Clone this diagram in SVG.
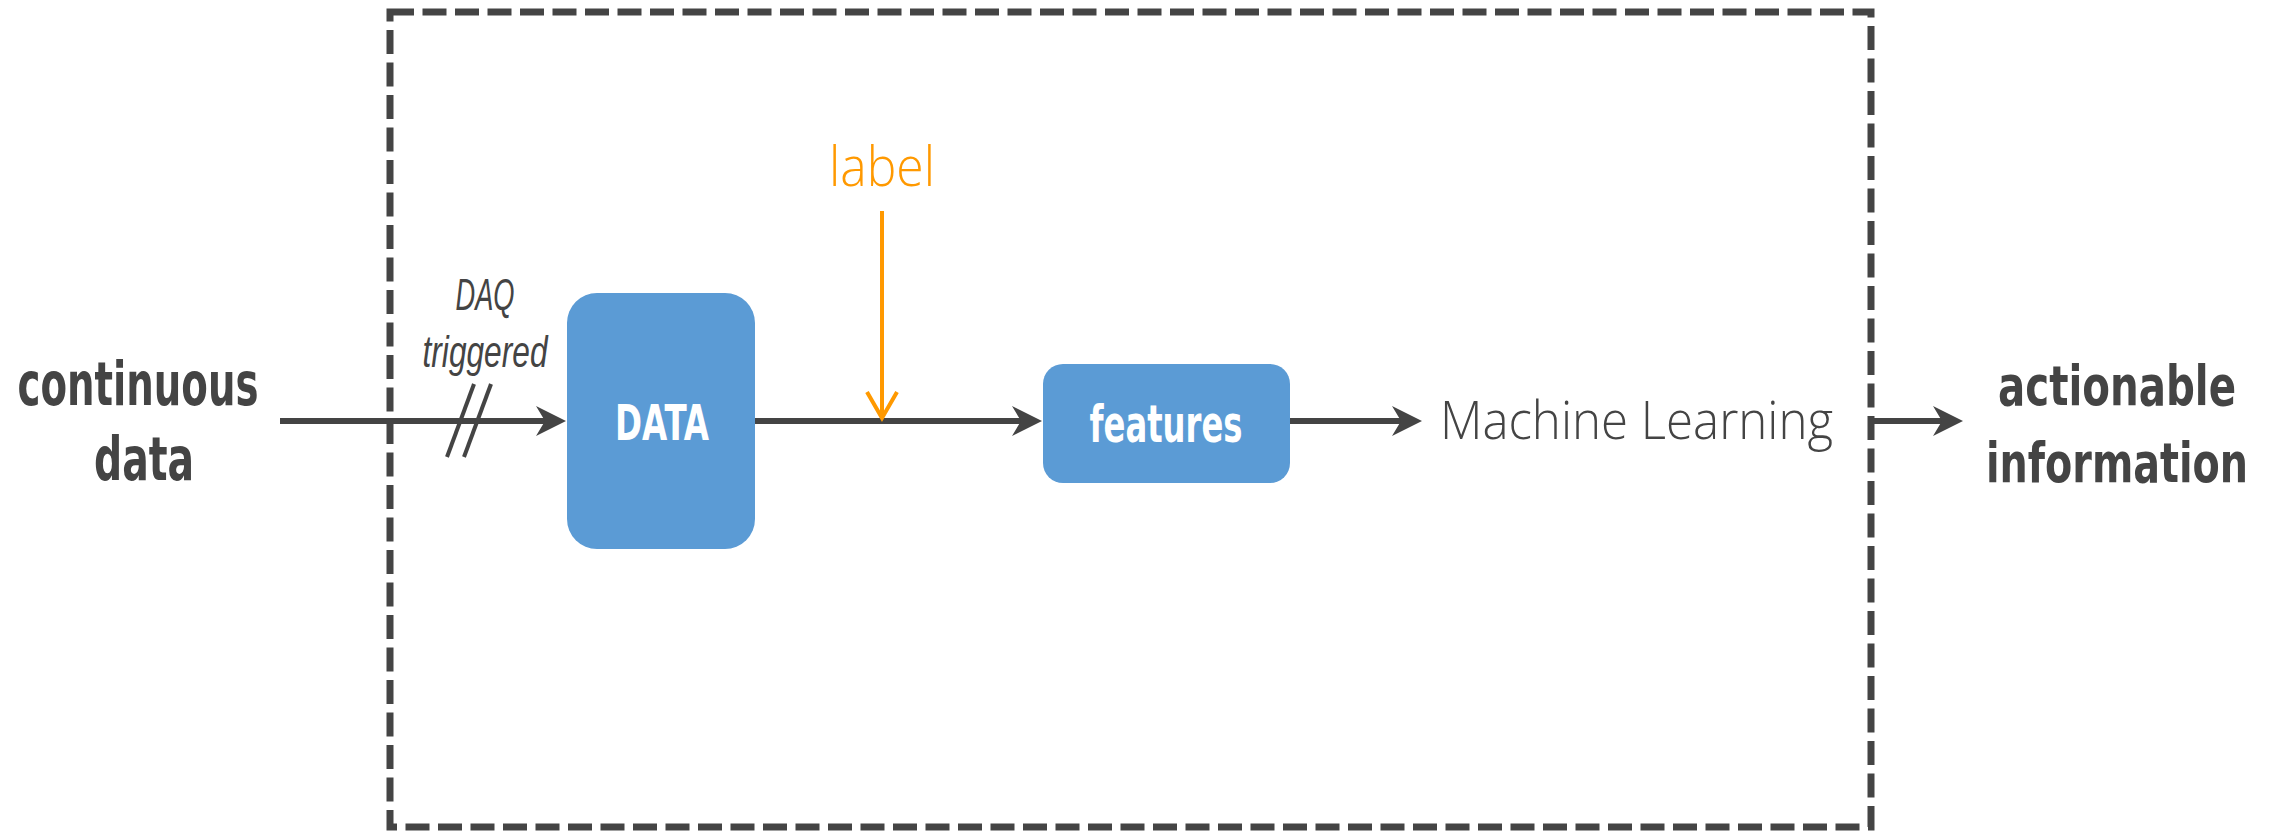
<svg xmlns="http://www.w3.org/2000/svg" width="2277" height="832" viewBox="0 0 2277 832">
  <style>
    .frame { fill: none; stroke: #444444; stroke-width: 7; stroke-dasharray: 24 8.5; }
    .wire { fill: none; stroke: #444444; stroke-width: 6; }
    .tick { fill: none; stroke: #444444; stroke-width: 4; }
    .cue { fill: none; stroke: #ff9900; stroke-width: 4; }
    .block { fill: #5b9bd5; }
    .heavy { font-family: "Liberation Sans Narrow", "DejaVu Sans Condensed", "Liberation Sans", sans-serif; font-weight: bold; }
    .side { font-size: 60px; fill: #444444; text-anchor: middle; }
    .inner { fill: #ffffff; text-anchor: middle; }
    .thin { font-family: "Open Sans", "Liberation Sans", sans-serif; font-weight: 300; }
    .note { font-family: "Liberation Sans Narrow", "Liberation Sans", sans-serif; font-style: italic; font-size: 44px; fill: #444444; text-anchor: middle; }
  </style>
  <defs>
    <marker id="head" markerUnits="userSpaceOnUse" viewBox="0 0 30 30" markerWidth="30" markerHeight="30" refX="10" refY="15" orient="auto">
      <path d="M0,0 L30,15 L0,30 L9,15 Z" fill="#444444"/>
    </marker>
    <marker id="vee" markerUnits="userSpaceOnUse" viewBox="-2 -18 32 36" markerWidth="32" markerHeight="36" refX="26" refY="0" orient="auto">
      <path d="M0,-15 L26,0 L0,15" fill="none" stroke="#ff9900" stroke-width="4"/>
    </marker>
  </defs>

  <!-- dashed system boundary -->
  <rect id="boundary" class="frame" x="390" y="12" width="1481" height="815"/>

  <!-- connectors -->
  <g id="connectors">
    <line class="wire" x1="280" y1="421" x2="546" y2="421" marker-end="url(#head)"/>
    <line class="tick" x1="447" y1="457" x2="474" y2="384"/>
    <line class="tick" x1="464" y1="457" x2="491" y2="384"/>
    <line class="wire" x1="755" y1="421" x2="1022" y2="421" marker-end="url(#head)"/>
    <line class="cue" x1="882" y1="211" x2="882" y2="418" marker-end="url(#vee)"/>
    <line class="wire" x1="1290" y1="421" x2="1402" y2="421" marker-end="url(#head)"/>
    <line class="wire" x1="1871" y1="421" x2="1943" y2="421" marker-end="url(#head)"/>
  </g>

  <g id="input">
    <text class="heavy side" x="138" y="405" textLength="241" lengthAdjust="spacingAndGlyphs">continuous</text>
    <text class="heavy side" x="144" y="480" textLength="100" lengthAdjust="spacingAndGlyphs">data</text>
  </g>

  <g id="trigger">
    <text class="note" x="485" y="310" textLength="59" lengthAdjust="spacingAndGlyphs">DAQ</text>
    <text class="note" x="485" y="367" textLength="125" lengthAdjust="spacingAndGlyphs">triggered</text>
  </g>

  <g id="data">
    <rect class="block" x="567" y="293" width="188" height="256" rx="30" ry="30"/>
    <text class="heavy inner" x="662" y="440" font-size="50" textLength="94" lengthAdjust="spacingAndGlyphs">DATA</text>
  </g>

  <g id="label">
    <text class="thin" x="882" y="186" font-size="56" fill="#ff9900" text-anchor="middle" textLength="106" lengthAdjust="spacingAndGlyphs">label</text>
  </g>

  <g id="features">
    <rect class="block" x="1043" y="364" width="247" height="119" rx="20" ry="20"/>
    <text class="heavy inner" x="1166" y="442" font-size="52" textLength="153" lengthAdjust="spacingAndGlyphs">features</text>
  </g>

  <g id="learning">
    <text class="thin" x="1440" y="439" font-size="54" fill="#444444" textLength="393" lengthAdjust="spacingAndGlyphs">Machine Learning</text>
  </g>

  <g id="output">
    <text class="heavy" x="2117" y="405" font-size="56" fill="#444444" text-anchor="middle" textLength="238" lengthAdjust="spacingAndGlyphs">actionable</text>
    <text class="heavy" x="2117" y="482" font-size="56" fill="#444444" text-anchor="middle" textLength="262" lengthAdjust="spacingAndGlyphs">information</text>
  </g>
</svg>
